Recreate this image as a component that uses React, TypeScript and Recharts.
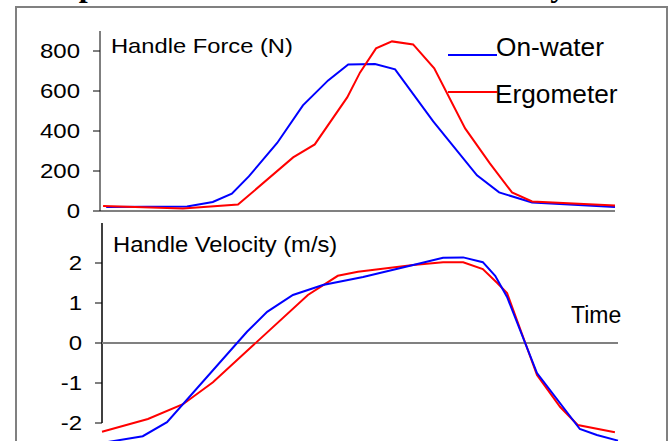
import { LineChart, Line, XAxis, YAxis, ReferenceLine } from 'recharts'

// time axis is % of stroke (0-100)
const forceWaterT = [1.2, 16.9, 21.9, 25.6, 28.9, 34.4, 39.4, 44.3, 48.2, 53.4, 57.3, 64.7, 73.2, 77.5, 83.9, 100]
const forceWater = [20, 22, 45, 87, 173, 340, 528, 653, 733, 735, 708, 448, 178, 93, 43, 20]
const forceErgT = [0.6, 16.1, 26.8, 37.5, 41.7, 48.0, 50.5, 53.6, 56.7, 60.8, 64.9, 70.9, 75.7, 80.0, 83.9, 100]
const forceErg = [25, 12, 32, 268, 333, 568, 693, 813, 848, 833, 713, 413, 238, 93, 48, 28]

const velWaterT = [0, 7.9, 12.6, 28.1, 32.0, 37.0, 42.8, 50.6, 60.3, 66.1, 70.0, 73.8, 76.2, 78.5, 84.3, 92.6, 95.9, 100]
const velWater = [-2.5, -2.33, -1.98, 0.28, 0.78, 1.2, 1.45, 1.65, 1.95, 2.13, 2.14, 2.02, 1.68, 1.15, -0.75, -2.15, -2.3, -2.44]
const velErgT = [0, 8.9, 15.7, 21.5, 39.9, 45.7, 49.6, 60.3, 66.1, 70.0, 73.8, 76.6, 78.5, 84.3, 88.8, 92.2, 99.4]
const velErg = [-2.22, -1.9, -1.53, -0.98, 1.2, 1.68, 1.78, 1.95, 2.02, 2.02, 1.85, 1.5, 1.25, -0.8, -1.6, -2.05, -2.23]

const forceTicks = [0, 200, 400, 600, 800]
const velTicks = [-2, -1, 0, 1, 2]

const pairs = (ts: number[], vs: number[]) => ts.map((t, i) => ({ t, v: vs[i] }))

const FONT = 'Arial, "Liberation Sans", sans-serif'

function Tick(props: any) {
  const { x, y, payload } = props
  return (
    <text
      transform={`translate(${x},${y}) scale(1.2,1)`}
      textAnchor="end"
      dy="0.355em"
      fontSize={20}
      fontFamily={FONT}
      fill="#000"
    >
      {payload.value}
    </text>
  )
}

export default function App() {
  return (
    <div style={{ position: 'absolute', left: 0, top: 0, width: 670, height: 441, overflow: 'hidden', background: '#fff' }}>
      <div style={{ position: 'absolute', left: 15, top: 6, width: 649, height: 500, border: '2px solid #808080' }} />

      <div style={{ position: 'absolute', left: 0, top: 200 }}>
        <LineChart width={670} height={280} margin={{ top: 23, right: 52, bottom: 17, left: 0 }}>
          <XAxis type="number" dataKey="t" domain={[0, 100]} hide allowDuplicatedCategory={false} />
          <YAxis type="number" domain={[-3, 3]} ticks={velTicks} width={102} tick={<Tick />}
            tickSize={7} tickMargin={13} axisLine={false} tickLine={{ stroke: '#000' }} interval={0} />
          <ReferenceLine segment={[{ x: 0, y: -2 }, { x: 0, y: 3 }]} stroke="#000" strokeWidth={1.5} />
          <ReferenceLine y={0} stroke="#808080" strokeWidth={2} />
          <Line data={pairs(velErgT, velErg)} dataKey="v" type="linear" stroke="#ff0000" strokeWidth={2}
            dot={false} isAnimationActive={false} />
          <Line data={pairs(velWaterT, velWater)} dataKey="v" type="linear" stroke="#0000ff" strokeWidth={2}
            dot={false} isAnimationActive={false} />
        </LineChart>
      </div>

      <div style={{ position: 'absolute', left: 0, top: 0 }}>
        <LineChart width={670} height={230} margin={{ top: 31, right: 55, bottom: 18, left: 0 }}>
          <XAxis type="number" dataKey="t" domain={[0, 100]} tick={false} tickLine={false} height={1}
            axisLine={{ stroke: '#808080', strokeWidth: 2 }} allowDuplicatedCategory={false} />
          <YAxis type="number" domain={[0, 900]} ticks={forceTicks} width={100} tick={<Tick />}
            tickSize={7} tickMargin={13} stroke="#000" interval={0} />
          <Line data={pairs(forceWaterT, forceWater)} dataKey="v" type="linear" stroke="#0000ff" strokeWidth={2}
            dot={false} isAnimationActive={false} />
          <Line data={pairs(forceErgT, forceErg)} dataKey="v" type="linear" stroke="#ff0000" strokeWidth={2}
            dot={false} isAnimationActive={false} />
        </LineChart>
      </div>

      <svg width={670} height={441} style={{ position: 'absolute', left: 0, top: 0, pointerEvents: 'none' }}>
        <text x={13} y={-4} fontSize={32} fontWeight="bold" fontFamily='"Times New Roman", "Liberation Serif", serif'>
          Comparison of handle force and velocity
        </text>
        <text transform="translate(111,53.3) scale(1.13,1)" fontSize={21} fontFamily={FONT}>Handle Force (N)</text>
        <text transform="translate(113,251.7) scale(1.08,1)" fontSize={22} fontFamily={FONT}>Handle Velocity (m/s)</text>
        <text x={571} y={323.3} fontSize={23} fontFamily={FONT}>Time</text>
        <line x1={448} x2={497} y1={55} y2={55} stroke="#0000ff" strokeWidth={2} />
        <text transform="translate(496,56) scale(1.05,1)" fontSize={25} fontFamily={FONT}>On-water</text>
        <line x1={448} x2={497} y1={92} y2={92} stroke="#ff0000" strokeWidth={2} />
        <text transform="translate(495,103) scale(1.05,1)" fontSize={25} fontFamily={FONT}>Ergometer</text>
      </svg>
    </div>
  )
}
